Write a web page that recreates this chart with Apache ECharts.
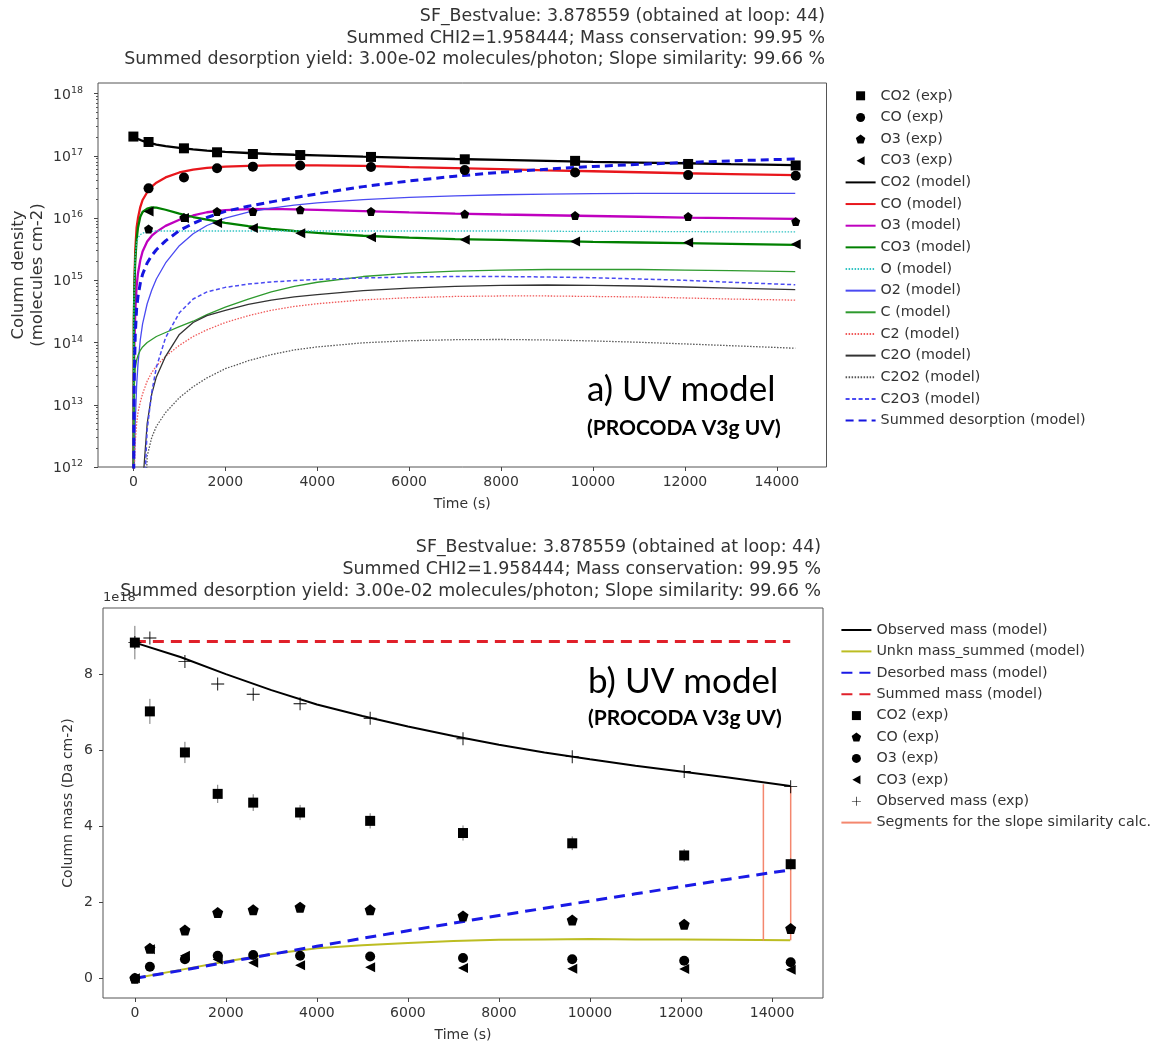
<!DOCTYPE html>
<html><head><meta charset="utf-8">
<script src="https://cdn.jsdelivr.net/npm/echarts@6/dist/echarts.min.js"></script>
<style>html,body{margin:0;padding:0;background:#fff}#c{width:1158px;height:1047px}</style>
</head><body><div id="c"></div>
<script>
// ---------------- DATA ----------------
const titleLines = [
  'SF_Bestvalue: 3.878559 (obtained at loop: 44)',
  'Summed CHI2=1.958444; Mass conservation: 99.95 %',
  'Summed desorption yield: 3.00e-02 molecules/photon; Slope similarity: 99.66 %'
];
const xTicks = [0, 2000, 4000, 6000, 8000, 10000, 12000, 14000];
const logTicks = [1e12, 1e13, 1e14, 1e15, 1e16, 1e17, 1e18];
const massTicks = [0, 2, 4, 6, 8];

// experimental times (s)
const timesExp = [0, 330, 1100, 1820, 2600, 3630, 5170, 7210, 9610, 12070, 14410];

// (a) column densities, experimental (molecules cm-2)
const co2Exp = [2.04e17, 1.67e17, 1.32e17, 1.14e17, 1.07e17, 1.03e17, 9.6e16, 8.8e16, 8.3e16, 7.4e16, 7.0e16];
const coExp  = [null, 3.0e16, 4.5e16, 6.3e16, 6.7e16, 7.0e16, 6.6e16, 5.9e16, 5.4e16, 4.9e16, 4.8e16];
const o3Exp  = [null, 6.7e15, 1.02e16, 1.28e16, 1.28e16, 1.36e16, 1.28e16, 1.16e16, 1.10e16, 1.06e16, 8.8e15];
const co3Exp = [null, 1.28e16, 1.0e16, 8.3e15, 6.9e15, 5.7e15, 4.9e15, 4.5e15, 4.2e15, 4.06e15, 3.8e15];

// (a) model times (s)
const tModel = [0, 10, 20, 40, 70, 100, 150, 200, 300, 400, 500, 700, 1000, 1300, 1600, 2000, 2500, 3000, 3500, 4000, 5000, 6000, 7000, 8000, 9000, 10000, 11000, 12000, 13000, 14400];
const co2Model = [2.02e17, 2.0e17, 1.98e17, 1.95e17, 1.9e17, 1.86e17, 1.8e17, 1.74e17, 1.65e17, 1.58e17, 1.52e17, 1.43e17, 1.34e17, 1.27e17, 1.21e17, 1.16e17, 1.11e17, 1.07e17, 1.04e17, 1.02e17, 9.7e16, 9.3e16, 8.9e16, 8.6e16, 8.3e16, 8.0e16, 7.8e16, 7.6e16, 7.35e16, 7.1e16];
const coModel  = [1e9, 2e14, 8e14, 3e15, 7e15, 1.0e16, 1.5e16, 1.95e16, 2.6e16, 3.2e16, 3.7e16, 4.5e16, 5.4e16, 6.0e16, 6.4e16, 6.7e16, 6.9e16, 7.0e16, 7.05e16, 7.05e16, 6.9e16, 6.6e16, 6.35e16, 6.1e16, 5.85e16, 5.65e16, 5.45e16, 5.25e16, 5.1e16, 4.9e16];
const o3Model  = [1e9, 2e13, 8e13, 3e14, 8e14, 1.3e15, 2.1e15, 2.9e15, 4.2e15, 5.2e15, 6.0e15, 7.5e15, 9.4e15, 1.1e16, 1.24e16, 1.34e16, 1.39e16, 1.4e16, 1.38e16, 1.35e16, 1.29e16, 1.23e16, 1.18e16, 1.14e16, 1.11e16, 1.08e16, 1.05e16, 1.02e16, 1.0e16, 9.7e15];
const co3Model = [1e9, 2e14, 7e14, 2e15, 4.5e15, 7e15, 1.05e16, 1.25e16, 1.42e16, 1.48e16, 1.47e16, 1.36e16, 1.18e16, 1.04e16, 9.4e15, 8.4e15, 7.4e15, 6.7e15, 6.2e15, 5.8e15, 5.2e15, 4.85e15, 4.6e15, 4.45e15, 4.3e15, 4.15e15, 4.05e15, 3.95e15, 3.85e15, 3.7e15];
const oModel   = [1e9, 3e14, 1e15, 2.5e15, 4e15, 4.8e15, 5.4e15, 5.7e15, 6.0e15, 6.1e15, 6.2e15, 6.2e15, 6.2e15, 6.2e15, 6.2e15, 6.2e15, 6.2e15, 6.2e15, 6.2e15, 6.2e15, 6.2e15, 6.2e15, 6.2e15, 6.2e15, 6.15e15, 6.1e15, 6.1e15, 6.05e15, 6.0e15, 6.0e15];
const o2Model  = [1e9, 1e11, 1e12, 5e12, 2e13, 4.5e13, 1.1e14, 2.0e14, 4.2e14, 7e14, 1.05e15, 1.9e15, 3.6e15, 5.6e15, 7.6e15, 1.0e16, 1.25e16, 1.45e16, 1.62e16, 1.76e16, 1.98e16, 2.15e16, 2.28e16, 2.37e16, 2.43e16, 2.47e16, 2.49e16, 2.5e16, 2.5e16, 2.5e16];
const cModel   = [1e9, 8e12, 2e13, 3.8e13, 5.2e13, 6.2e13, 7.5e13, 8.5e13, 1.0e14, 1.12e14, 1.25e14, 1.45e14, 1.8e14, 2.2e14, 2.8e14, 3.7e14, 5.0e14, 6.5e14, 8.0e14, 9.3e14, 1.15e15, 1.3e15, 1.4e15, 1.46e15, 1.49e15, 1.5e15, 1.49e15, 1.46e15, 1.43e15, 1.38e15];
const c2Model  = [1e9, 3e11, 1e12, 2.5e12, 5e12, 7.5e12, 1.1e13, 1.5e13, 2.4e13, 3.3e13, 4.2e13, 6e13, 9e13, 1.25e14, 1.6e14, 2.1e14, 2.7e14, 3.3e14, 3.8e14, 4.2e14, 4.85e14, 5.25e14, 5.5e14, 5.6e14, 5.6e14, 5.5e14, 5.4e14, 5.2e14, 5.0e14, 4.8e14];
const c2oModel = [null, null, null, null, null, null, 1e10, 5e11, 5e12, 1.5e13, 2.8e13, 6e13, 1.35e14, 2.1e14, 2.7e14, 3.3e14, 4.1e14, 4.8e14, 5.4e14, 5.9e14, 6.8e14, 7.5e14, 8.0e14, 8.3e14, 8.4e14, 8.3e14, 8.1e14, 7.8e14, 7.5e14, 7.1e14];
const c2o2Model = [null, null, null, null, null, null, null, 1e10, 1.5e12, 3e12, 4.5e12, 7.5e12, 1.3e13, 1.95e13, 2.7e13, 3.8e13, 5.1e13, 6.4e13, 7.6e13, 8.5e13, 9.9e13, 1.07e14, 1.11e14, 1.12e14, 1.1e14, 1.06e14, 1.01e14, 9.5e13, 8.9e13, 8.1e13];
const c2o3Model = [null, null, null, null, null, null, null, 1e11, 4e12, 1.6e13, 4e13, 1.2e14, 3e14, 5e14, 6.5e14, 7.7e14, 8.7e14, 9.4e14, 9.9e14, 1.03e15, 1.09e15, 1.13e15, 1.15e15, 1.15e15, 1.13e15, 1.1e15, 1.05e15, 1.0e15, 9.3e14, 8.5e14];
const sumDesModel = [1e9, 5e12, 3e13, 1.3e14, 3.5e14, 5.5e14, 9e14, 1.25e15, 1.9e15, 2.5e15, 3.1e15, 4.3e15, 6.3e15, 8.2e15, 1.02e16, 1.28e16, 1.55e16, 1.82e16, 2.12e16, 2.45e16, 3.2e16, 3.95e16, 4.7e16, 5.45e16, 6.1e16, 6.75e16, 7.3e16, 7.8e16, 8.3e16, 8.9e16];

// (b) column masses, experimental (units of 1e18 Da cm-2)
const co2Mass = [8.83, 7.02, 5.94, 4.85, 4.62, 4.36, 4.14, 3.82, 3.55, 3.23, 3.0];
const co2MassErr = [0.44, 0.33, 0.28, 0.24, 0.22, 0.2, 0.2, 0.2, 0.18, 0.17, 0.16];
const coMass  = [0, 0.79, 1.27, 1.73, 1.80, 1.87, 1.80, 1.64, 1.53, 1.42, 1.31];
const coMassErr = [0, 0.08, 0.08, 0.1, 0.1, 0.1, 0.1, 0.08, 0.08, 0.08, 0.08];
const o3Mass  = [0, 0.30, 0.50, 0.59, 0.61, 0.59, 0.57, 0.53, 0.50, 0.46, 0.42];
const co3Mass = [0, 0.76, 0.59, 0.49, 0.41, 0.34, 0.29, 0.27, 0.25, 0.24, 0.22];
const obsMassExp = [8.83, 8.95, 8.33, 7.74, 7.47, 7.22, 6.84, 6.30, 5.83, 5.44, 5.04];

// (b) model times and masses (units of 1e18 Da cm-2)
const tMass = [0, 1000, 2000, 3000, 4000, 5000, 6000, 7000, 8000, 9000, 10000, 11000, 12000, 13000, 14400];
const obsMassModel = [8.83, 8.45, 8.0, 7.58, 7.2, 6.9, 6.62, 6.37, 6.14, 5.94, 5.76, 5.59, 5.44, 5.29, 5.06];
const unknMassModel = [0, 0.22, 0.44, 0.64, 0.79, 0.87, 0.93, 0.98, 1.01, 1.02, 1.03, 1.02, 1.02, 1.01, 1.0];
const desMassModel = [0, 0.2, 0.42, 0.63, 0.84, 1.05, 1.25, 1.45, 1.65, 1.84, 2.03, 2.22, 2.41, 2.6, 2.85];
const sumMassModel = [8.86, 8.86, 8.86, 8.86, 8.86, 8.86, 8.86, 8.86, 8.86, 8.86, 8.86, 8.86, 8.86, 8.86, 8.86];

// slope-similarity segments
const segTimes = [13810, 14410];
const segLow = [0.99, 1.0];
const segHigh = [5.1, 5.04];

// ---------------- CHART ----------------
const FONT = 'DejaVu Sans';
const TXT = '#333';
const pairs = (xs, ys) => xs.map((x, i) => [x, ys[i]]).filter(p => p[1] !== null && p[1] !== undefined);
const SQUARE = 'path://M-1,-1 L1,-1 L1,1 L-1,1 Z';
const TRI_LEFT = 'path://M-1,0 L0.8,-1 L0.8,1 Z';
const PENTAGON = 'path://M0,-1 L0.951,-0.309 L0.588,0.809 L-0.588,0.809 L-0.951,-0.309 Z';
const PLUS = 'path://M-1,-0.07 L-0.07,-0.07 L-0.07,-1 L0.07,-1 L0.07,-0.07 L1,-0.07 L1,0.07 L0.07,0.07 L0.07,1 L-0.07,1 L-0.07,0.07 L-1,0.07 Z';

const minorLog = [];
for (let e = 12; e <= 18; e++) for (let m = 2; m <= 9; m++) { const v = m * Math.pow(10, e); if (v < 1.4e18) minorLog.push(v); }

function lineS(name, xs, ys, color, width, type, gridIdx, z) {
  return {
    type: 'line', name, data: pairs(xs, ys), xAxisIndex: gridIdx, yAxisIndex: gridIdx === 0 ? 0 : 2,
    symbol: 'none', showSymbol: false, smooth: false, z: z || 2,
    lineStyle: { color, width, type: type || 'solid', cap: 'butt' }, itemStyle: { color, opacity: 0 },
    emphasis: { disabled: true }
  };
}
function scatS(name, xs, ys, symbol, size, gridIdx) {
  return {
    type: 'scatter', name, data: pairs(xs, ys), xAxisIndex: gridIdx, yAxisIndex: gridIdx === 0 ? 0 : 2,
    symbol, symbolSize: size, z: 4,
    itemStyle: { color: '#000', opacity: 1 }, emphasis: { disabled: true }
  };
}
function errS(xs, ys, es) {
  return {
    type: 'custom', xAxisIndex: 1, yAxisIndex: 2, z: 3, silent: true,
    data: xs.map((x, i) => [x, ys[i], es[i]]),
    renderItem: (params, api) => {
      const x = api.value(0), y = api.value(1), e = api.value(2);
      const p1 = api.coord([x, y - e]), p2 = api.coord([x, y + e]);
      return { type: 'line', shape: { x1: p1[0], y1: p1[1], x2: p2[0], y2: p2[1] }, style: { stroke: '#777', lineWidth: 1 } };
    }
  };
}

const topNames = ['CO2 (exp)', 'CO (exp)', 'O3 (exp)', 'CO3 (exp)', 'CO2 (model)', 'CO (model)', 'O3 (model)', 'CO3 (model)', 'O (model)', 'O2 (model)', 'C (model)', 'C2 (model)', 'C2O (model)', 'C2O2 (model)', 'C2O3 (model)', 'Summed desorption (model)'];
const botNames = ['Observed mass (model)', 'Unkn mass_summed (model)', 'Desorbed mass (model)', 'Summed mass (model)', 'CO2 (exp) ', 'CO (exp) ', 'O3 (exp) ', 'CO3 (exp) ', 'Observed mass (exp)', 'Segments for the slope similarity calc.'];

const series = [
  // top chart
  lineS('CO2 (model)', tModel, co2Model, '#000000', 2.3, 'solid', 0),
  lineS('CO (model)', tModel, coModel, '#e8161c', 2.3, 'solid', 0),
  lineS('O3 (model)', tModel, o3Model, '#bf00bf', 2.3, 'solid', 0),
  lineS('CO3 (model)', tModel, co3Model, '#008000', 2.3, 'solid', 0),
  lineS('O (model)', tModel, oModel, '#33c4c4', 1.3, [1.5, 1.5], 0),
  lineS('O2 (model)', tModel, o2Model, '#4a4af2', 1.3, 'solid', 0),
  lineS('C (model)', tModel, cModel, '#2e9a2e', 1.3, 'solid', 0),
  lineS('C2 (model)', tModel, c2Model, '#f05a5a', 1.3, [1.5, 1.5], 0),
  lineS('C2O (model)', tModel, c2oModel, '#333333', 1.3, 'solid', 0),
  lineS('C2O2 (model)', tModel, c2o2Model, '#555555', 1.3, [1.5, 1.5], 0),
  lineS('C2O3 (model)', tModel, c2o3Model, '#4a4af2', 1.5, [4, 2.5], 0),
  lineS('Summed desorption (model)', tModel, sumDesModel, '#1515e0', 3, [8, 5], 0),
  scatS('CO2 (exp)', timesExp, co2Exp, SQUARE, 10, 0),
  scatS('CO (exp)', timesExp, coExp, 'circle', 10, 0),
  scatS('O3 (exp)', timesExp, o3Exp, PENTAGON, 9, 0),
  scatS('CO3 (exp)', timesExp, co3Exp, TRI_LEFT, 10, 0),
  // bottom chart
  errS(timesExp, co2Mass, co2MassErr),
  errS(timesExp, coMass, coMassErr),
  lineS('Observed mass (model)', tMass, obsMassModel, '#000000', 2, 'solid', 1),
  lineS('Unkn mass_summed (model)', tMass, unknMassModel, '#bcbd22', 2, 'solid', 1),
  lineS('Desorbed mass (model)', tMass, desMassModel, '#1a1ae6', 3, [11, 7], 1, 3),
  lineS('Summed mass (model)', tMass, sumMassModel, '#e0202a', 3, [11, 7], 1, 3),
  lineS('Segments for the slope similarity calc.', [segTimes[0], segTimes[0]], [segLow[0], segHigh[0]], '#f4876e', 1.5, 'solid', 1),
  lineS('Segments for the slope similarity calc.', [segTimes[1], segTimes[1]], [segLow[1], segHigh[1]], '#f4876e', 1.5, 'solid', 1),
  scatS('CO2 (exp) ', timesExp, co2Mass, SQUARE, 10, 1),
  scatS('CO (exp) ', timesExp, coMass, PENTAGON, 11, 1),
  scatS('O3 (exp) ', timesExp, o3Mass, 'circle', 10, 1),
  scatS('CO3 (exp) ', timesExp, co3Mass, TRI_LEFT, 10, 1),
  scatS('Observed mass (exp)', timesExp, obsMassExp, PLUS, 13, 1)
];

const axisTickStyle = { show: true, length: 4, lineStyle: { color: '#444', width: 1 } };
const labelBase = { color: TXT, fontFamily: FONT, fontSize: 14 };
const plain = v => String(v);

const option = {
  animation: false,
  backgroundColor: '#fff',
  title: [
    { text: titleLines.join('\n'), left: 820, top: 0.5, textAlign: 'right',
      textStyle: { fontFamily: FONT, fontSize: 17.4, fontWeight: 'normal', color: TXT, lineHeight: 21.7, align: 'right' } },
    { text: titleLines.join('\n'), left: 816, top: 532, textAlign: 'right',
      textStyle: { fontFamily: FONT, fontSize: 17.4, fontWeight: 'normal', color: TXT, lineHeight: 21.7, align: 'right' } }
  ],
  grid: [
    { left: 98, top: 83, width: 728.5, height: 384, show: true, borderColor: '#555', borderWidth: 1, backgroundColor: 'transparent', outerBoundsMode: 'none', containLabel: false },
    { left: 103, top: 608, width: 720, height: 390, show: true, borderColor: '#555', borderWidth: 1, backgroundColor: 'transparent', outerBoundsMode: 'none', containLabel: false }
  ],
  xAxis: [
    { type: 'value', gridIndex: 0, min: -770, max: 15080, splitLine: { show: false },
      axisLine: { show: false, onZero: false }, axisTick: Object.assign({ customValues: xTicks }, axisTickStyle),
      axisLabel: Object.assign({ customValues: xTicks, margin: 8, formatter: plain }, labelBase),
      name: 'Time (s)', nameLocation: 'middle', nameGap: 30, nameMoveOverlap: false, nameTextStyle: labelBase },
    { type: 'value', gridIndex: 1, min: -700, max: 15120, splitLine: { show: false },
      axisLine: { show: false, onZero: false }, axisTick: Object.assign({ customValues: xTicks }, axisTickStyle),
      axisLabel: Object.assign({ customValues: xTicks, margin: 8, formatter: plain }, labelBase),
      name: 'Time (s)', nameLocation: 'middle', nameGap: 30, nameMoveOverlap: false, nameTextStyle: labelBase }
  ],
  yAxis: [
    { type: 'log', gridIndex: 0, position: 'left', min: 1e12, max: 1.48e18, splitLine: { show: false },
      axisLine: { show: false, onZero: false }, axisTick: Object.assign({ customValues: logTicks }, axisTickStyle),
      axisLabel: { customValues: logTicks, margin: 15,
        formatter: v => '{b|10}{s|' + Math.round(Math.log10(v)) + '}',
        rich: { b: { fontFamily: FONT, fontSize: 14, color: TXT, verticalAlign: 'bottom', lineHeight: 17 },
                s: { fontFamily: FONT, fontSize: 9.5, color: TXT, verticalAlign: 'top', lineHeight: 10 } } },
      name: 'Column density\n(molecules cm-2)', nameLocation: 'middle', nameGap: 51, nameMoveOverlap: false,
      nameTextStyle: { fontFamily: FONT, fontSize: 16.5, color: TXT, lineHeight: 19 } },
    { type: 'log', gridIndex: 0, position: 'left', min: 1e12, max: 1.48e18, splitLine: { show: false },
      axisLine: { show: false, onZero: false }, axisLabel: { show: false },
      axisTick: { show: true, length: 2, customValues: minorLog, lineStyle: { color: '#555', width: 1 } } },
    { type: 'value', gridIndex: 1, position: 'left', min: -0.52, max: 9.74, splitLine: { show: false },
      axisLine: { show: false, onZero: false }, axisTick: Object.assign({ customValues: massTicks }, axisTickStyle),
      axisLabel: Object.assign({ customValues: massTicks, margin: 10, formatter: plain }, labelBase),
      name: 'Column mass (Da cm-2)', nameLocation: 'middle', nameGap: 28, nameMoveOverlap: false,
      nameTextStyle: { fontFamily: FONT, fontSize: 14, color: TXT } }
  ],
  legend: [
    { data: topNames, orient: 'vertical', left: 839.6, top: 82.8, itemWidth: 30, itemHeight: 9, itemGap: 5.65,
      textStyle: { fontFamily: FONT, fontSize: 14.3, color: TXT, lineHeight: 16 },
      selectedMode: false },
    { data: botNames, orient: 'vertical', left: 835.4, top: 617, itemWidth: 30, itemHeight: 9, itemGap: 5.4,
      textStyle: { fontFamily: FONT, fontSize: 14.3, color: TXT, lineHeight: 16 },
      selectedMode: false }
  ],
  graphic: [
    { type: 'text', x: 587, y: 390, z: 10, style: { text: 'a) UV model', fontFamily: 'Lato', fontSize: 35, fill: '#000', verticalAlign: 'middle' } },
    { type: 'text', x: 587, y: 428, z: 10, style: { text: '(PROCODA V3g UV)', fontFamily: 'Lato', fontWeight: 'bold', fontSize: 21, fill: '#000', verticalAlign: 'middle' } },
    { type: 'text', x: 588, y: 682, z: 10, style: { text: 'b) UV model', fontFamily: 'Lato', fontSize: 35, fill: '#000', verticalAlign: 'middle' } },
    { type: 'text', x: 588, y: 718, z: 10, style: { text: '(PROCODA V3g UV)', fontFamily: 'Lato', fontWeight: 'bold', fontSize: 21, fill: '#000', verticalAlign: 'middle' } },
    { type: 'text', x: 103, y: 598, z: 1, style: { text: '1e18', fontFamily: FONT, fontSize: 13, fill: TXT, verticalAlign: 'middle' } }
  ],
  series
};

const chart = echarts.init(document.getElementById('c'), null, { renderer: 'canvas' });
chart.setOption(option);
</script></body></html>
